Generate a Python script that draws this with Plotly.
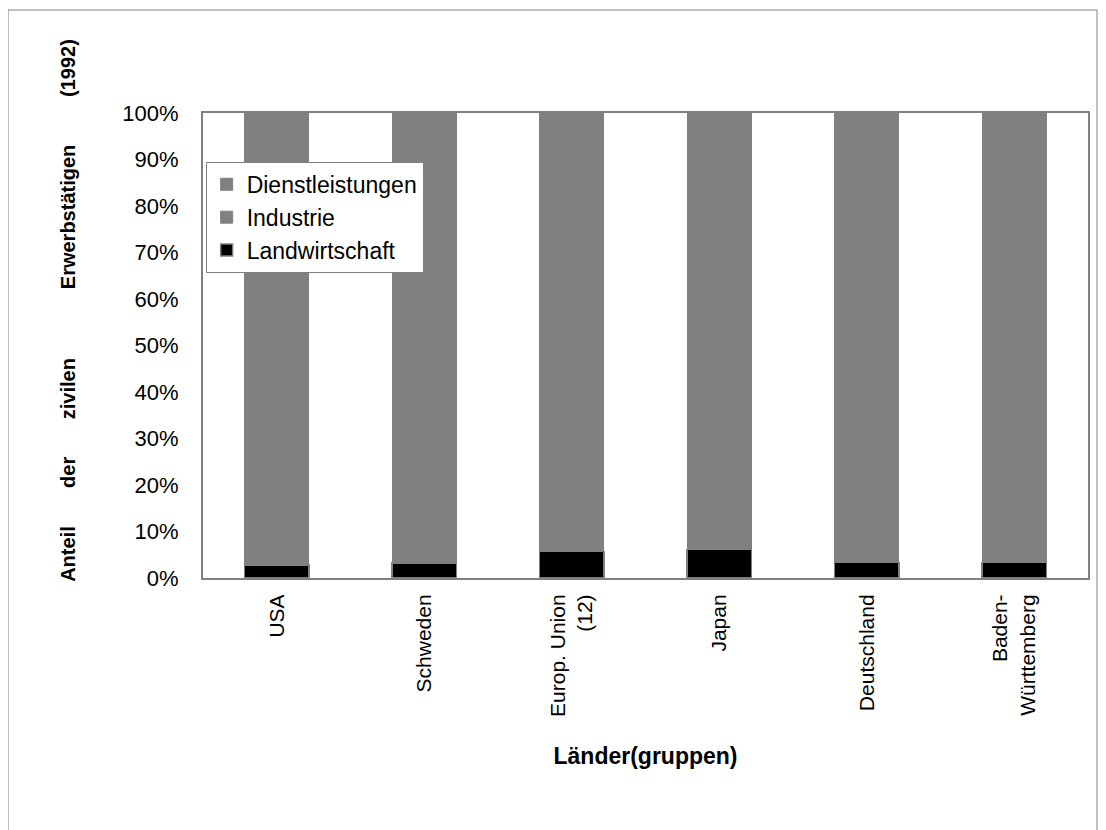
import plotly.graph_objects as go

categories = ["USA", "Schweden", "Europ. Union<br>(12)", "Japan", "Deutschland", "Baden-<br>Württemberg"]
landwirtschaft = [2.8, 3.2, 5.7, 6.1, 3.3, 3.3]
industrie = [25.4, 26.9, 33.4, 35.2, 39.7, 46.4]
dienstleistungen = [71.8, 69.9, 60.9, 58.7, 57.0, 50.3]
y_ticks = [0, 10, 20, 30, 40, 50, 60, 70, 80, 90, 100]
y_title_words = ["Anteil", "der", "zivilen", "Erwerbstätigen", "(1992)"]
y_title_pos = [0.052, 0.226, 0.406, 0.776, 1.097]

FONT = "Liberation Sans, Arial, sans-serif"
GREY = "#808080"

fig = go.Figure()
fig.add_trace(go.Bar(x=categories, y=landwirtschaft, name="Landwirtschaft",
                     marker=dict(color="#000000", line=dict(color=GREY, width=1.5))))
fig.add_trace(go.Bar(x=categories, y=industrie, name="Industrie",
                     marker=dict(color=GREY, line=dict(color=GREY, width=1))))
fig.add_trace(go.Bar(x=categories, y=dienstleistungen, name="Dienstleistungen",
                     marker=dict(color=GREY, line=dict(color=GREY, width=1))))

fig.update_layout(
    width=1098, height=822,
    barmode="stack", bargap=0.566,
    paper_bgcolor="white", plot_bgcolor="white",
    margin=dict(l=195, r=18, t=105, b=252, autoexpand=False),
    font=dict(family=FONT, size=22, color="black"),
    showlegend=True,
    legend=dict(x=0.003, y=0.895, xanchor="left", yanchor="top",
                traceorder="reversed", bgcolor="white",
                bordercolor=GREY, borderwidth=1,
                font=dict(family=FONT, size=23, color="black"),
                itemwidth=30, tracegroupgap=0),
    xaxis=dict(type="category", tickangle=-90, showline=True, linecolor=GREY,
               linewidth=2, mirror=True, ticks="", showgrid=False,
               tickfont=dict(family=FONT, size=21), ticklabelstandoff=6,
               title=dict(text="<b>Länder(gruppen)</b>", standoff=32,
                          font=dict(family=FONT, size=23))),
    yaxis=dict(range=[0, 100], tickvals=y_ticks,
               ticktext=[f"{v}%" for v in y_ticks],
               showline=True, linecolor=GREY, linewidth=2, mirror=True,
               ticks="", showgrid=False, zeroline=False,
               tickfont=dict(family=FONT, size=22), ticklabelstandoff=18),
)

for word, pos in zip(y_title_words, y_title_pos):
    fig.add_annotation(text=f"<b>{word}</b>", xref="paper", yref="paper",
                       x=-0.1525, y=pos, textangle=-90, showarrow=False,
                       xanchor="center", yanchor="middle",
                       font=dict(family=FONT, size=20, color="black"))

fig.add_shape(type="rect", xref="paper", yref="paper",
              x0=-0.2203, x1=1.0102, y0=-0.56, y1=1.2215,
              line=dict(color=GREY, width=1), fillcolor="rgba(0,0,0,0)", layer="below")

fig.write_html("out.html")
